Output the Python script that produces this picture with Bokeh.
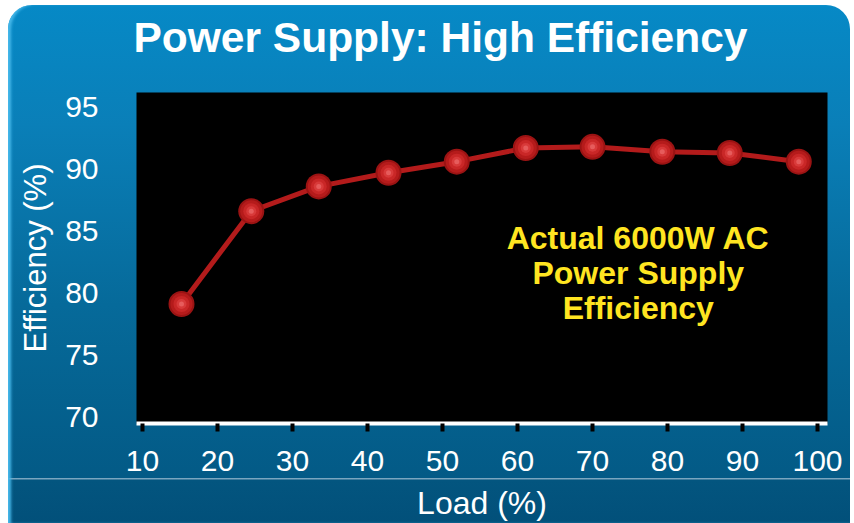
from bokeh.plotting import figure
from bokeh.models import Range1d, FixedTicker, Label, Title
from bokeh.embed import file_html
from bokeh.resources import INLINE

# ---- data ----
load_pct = [15.2, 24.5, 33.5, 42.8, 51.9, 61.1, 70.0, 79.3, 88.3, 97.5]
efficiency_pct = [79.1, 86.6, 88.6, 89.7, 90.6, 91.7, 91.8, 91.4, 91.3, 90.6]
x_ticks = [10, 20, 30, 40, 50, 60, 70, 80, 90, 100]
y_ticks = [70, 75, 80, 85, 90, 95]
title_text = "Power Supply: High Efficiency"
x_label = "Load (%)"
y_label = "Efficiency (%)"
note_lines = ["Actual 6000W AC", "Power Supply", "Efficiency"]

FONT = "Liberation Sans"

p = figure(width=842, height=518, output_backend="svg", toolbar_location=None,
           x_range=Range1d(9.2, 101.33), y_range=Range1d(69.44, 96.19),
           min_border_left=128, min_border_right=23, min_border_top=87,
           min_border_bottom=91)

p.background_fill_color = "black"
p.border_fill_alpha = 0
p.outline_line_color = None
p.grid.visible = False
p.styles = {
    "position": "relative",
    "left": "8px",
    "top": "5px",
    "background": "linear-gradient(to bottom, #0689c6 0px, #0a7fb8 120px, #066a9a 300px, "
                  "#035a86 473px, #7aa6c0 473px, #7aa6c0 474px, #03557f 475px, #02507a 100%)",
    "border-radius": "24px 24px 0 0",
    "box-shadow": "inset 4px 0 3px -1px #46b8ea",
}

# spacer between frame and title (keeps the title high above the frame)
p.add_layout(Title(text=" ", text_font_size="10px", standoff=19), "above")

# title
p.title.text = title_text
p.title.text_font = FONT
p.title.text_font_size = "42.5px"
p.title.text_font_style = "bold"
p.title.text_color = "white"
p.title.align = "left"
p.title.offset = -3
p.title.vertical_align = "bottom"
p.title.standoff = 0

# x axis
xa = p.xaxis[0]
xa.ticker = FixedTicker(ticks=x_ticks)
xa.axis_line_color = "white"
xa.axis_line_width = 4
xa.major_tick_line_color = "black"
xa.major_tick_line_width = 4
xa.major_tick_in = 0
xa.major_tick_out = 8
xa.minor_tick_line_color = None
xa.major_label_text_color = "white"
xa.major_label_text_font = FONT
xa.major_label_text_font_size = "30px"
xa.major_label_standoff = 19
xa.axis_label = x_label
xa.axis_label_text_color = "white"
xa.axis_label_text_font = FONT
xa.axis_label_text_font_size = "32px"
xa.axis_label_text_font_style = "normal"
xa.axis_label_standoff = 11

# y axis
ya = p.yaxis[0]
ya.ticker = FixedTicker(ticks=y_ticks)
ya.axis_line_color = None
ya.major_tick_line_color = None
ya.minor_tick_line_color = None
ya.major_tick_in = 0
ya.major_tick_out = 0
ya.major_label_text_color = "white"
ya.major_label_text_font = FONT
ya.major_label_text_font_size = "30px"
ya.major_label_standoff = 38
ya.axis_label = y_label
ya.axis_label_text_color = "white"
ya.axis_label_text_font = FONT
ya.axis_label_text_font_size = "31px"
ya.axis_label_text_font_style = "normal"
ya.axis_label_standoff = 9

# line + sphere-like markers
p.line(load_pct, efficiency_pct, line_color="#B31B1B", line_width=5)
for size, color in [(26, "#9A1313"), (22, "#B51B1B"), (16, "#C92727"), (10, "#D83A3A"), (5, "#E65C5C")]:
    p.scatter(load_pct, efficiency_pct, size=size, fill_color=color, line_color=None)

# annotation text
note = Label(x=76.1, y=81.6, text="\n".join(note_lines), text_align="center",
             text_baseline="middle", text_color="#FFE521", text_font=FONT,
             text_font_size="32px", text_font_style="bold", text_line_height=0.96)
p.add_layout(note)

open("out.html", "w").write(file_html(p, INLINE))
